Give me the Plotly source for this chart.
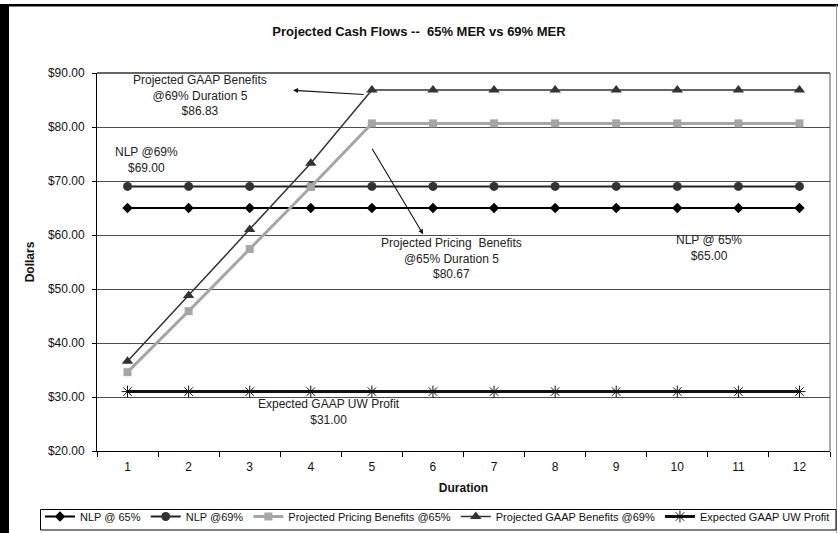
import plotly.graph_objects as go

# Projected cash flows by policy duration
durations = [1, 2, 3, 4, 5, 6, 7, 8, 9, 10, 11, 12]
nlp_65 = [65.00] * 12
nlp_69 = [69.00] * 12
pricing_benefits_65 = [34.6, 45.9, 57.4, 68.9, 80.67, 80.67, 80.67, 80.67, 80.67, 80.67, 80.67, 80.67]
gaap_benefits_69 = [36.6, 48.8, 61.0, 73.3, 86.83, 86.83, 86.83, 86.83, 86.83, 86.83, 86.83, 86.83]
uw_profit = [31.00] * 12

y_ticks = [20, 30, 40, 50, 60, 70, 80, 90]

W, H = 838, 533
ML, MR, MT, MB = 97, 8, 73, 82
PW, PH = W - ML - MR, H - MT - MB
FONT = "Liberation Sans, Arial, sans-serif"


def px_x(px):
    return (px - ML) / PW


def px_y(py):
    return 1 - (py - MT) / PH


cats = [str(d) for d in durations]

fig = go.Figure()
fig.add_trace(go.Scatter(
    x=cats, y=nlp_65, name="NLP @ 65%", mode="lines+markers",
    line=dict(color="#000000", width=2),
    marker=dict(symbol="diamond", size=8, color="#000000")))
fig.add_trace(go.Scatter(
    x=cats, y=nlp_69, name="NLP @69%", mode="lines+markers",
    line=dict(color="#222222", width=2),
    marker=dict(symbol="circle", size=9, color="#333333")))
fig.add_trace(go.Scatter(
    x=cats, y=pricing_benefits_65, name="Projected Pricing Benefits @65%", mode="lines+markers",
    line=dict(color="#a6a6a6", width=3),
    marker=dict(symbol="square", size=8, color="#a6a6a6")))
fig.add_trace(go.Scatter(
    x=cats, y=gaap_benefits_69, name="Projected GAAP Benefits @69%", mode="lines+markers",
    line=dict(color="#333333", width=1.5),
    marker=dict(symbol="triangle-up", size=10, color="#333333")))
fig.add_trace(go.Scatter(
    x=cats, y=uw_profit, name="Expected GAAP UW Profit", mode="lines+markers",
    line=dict(color="#111111", width=3),
    marker=dict(symbol="asterisk-open", size=10, color="#111111",
                line=dict(color="#111111", width=1))))

ann_font = dict(family=FONT, size=12, color="#222222")
annotations = [
    dict(x=1.19, y=85.87, text="Projected GAAP Benefits<br>@69% Duration 5<br>$86.83"),
    dict(x=5.31, y=55.69, text="Projected Pricing  Benefits<br>@65% Duration 5<br>$80.67"),
    dict(x=0.31, y=73.93, text="NLP @69%<br>$69.00"),
    dict(x=9.52, y=57.63, text="NLP @ 65%<br>$65.00"),
    dict(x=3.29, y=27.17, text="Expected GAAP UW Profit<br>$31.00"),
]
for a in annotations:
    fig.add_annotation(xref="x", yref="y", showarrow=False, font=ann_font,
                       xanchor="center", yanchor="middle", align="center", **a)

# pointer arrows from the duration-5 points to their labels
for (hx, hy, tx, ty) in [(2.71, 86.80, 3.89, 86.0), (4.84, 60.13, 3.99, 76.24)]:
    fig.add_annotation(xref="x", yref="y", x=hx, y=hy, axref="x", ayref="y", ax=tx, ay=ty,
                       text="", showarrow=True, arrowhead=2, arrowsize=0.9,
                       arrowwidth=1.1, arrowcolor="#111111", standoff=0, startstandoff=0)

# outer chart frame
fig.add_shape(type="rect", xref="paper", yref="paper", layer="above",
              x0=px_x(0), x1=px_x(9), y0=px_y(533), y1=px_y(4),
              fillcolor="#000000", line=dict(width=0))
fig.add_shape(type="rect", xref="paper", yref="paper", layer="above",
              x0=px_x(0), x1=px_x(838), y0=px_y(6.5), y1=px_y(4),
              fillcolor="#000000", line=dict(width=0))
fig.add_shape(type="line", xref="paper", yref="paper", layer="above",
              x0=px_x(836.5), x1=px_x(836.5), y0=px_y(533), y1=px_y(5),
              line=dict(color="#9a9a9a", width=1))

# legend frame
fig.add_shape(type="rect", xref="paper", yref="paper", layer="above",
              x0=px_x(40.5), x1=px_x(836), y0=px_y(530), y1=px_y(509.5),
              fillcolor="rgba(255,255,255,0)", line=dict(color="#000000", width=1))

fig.update_layout(
    width=W, height=H,
    margin=dict(l=ML, r=MR, t=MT, b=MB, pad=0, autoexpand=False),
    paper_bgcolor="#ffffff", plot_bgcolor="#ffffff",
    font=dict(family=FONT, size=12, color="#111111"),
    title=dict(text="<b>Projected Cash Flows --  65% MER vs 69% MER</b>",
               x=0.5, xanchor="center", xref="container",
               y=1 - 31 / H, yanchor="middle", yref="container",
               font=dict(family=FONT, size=13, color="#111111")),
    xaxis=dict(type="category", range=[-0.5, 11.5], tickson="boundaries",
               ticks="outside", ticklen=5, tickcolor="#000000", tickwidth=1,
               showgrid=False, showline=True, linecolor="#000000", linewidth=1,
               mirror=False, zeroline=False, ticklabelstandoff=5,
               tickfont=dict(family=FONT, size=12, color="#111111"),
               title=dict(text="<b>Duration</b>", standoff=10,
                          font=dict(family=FONT, size=12, color="#111111"))),
    yaxis=dict(range=[20, 90], tickvals=y_ticks, tickformat="$.2f",
               ticks="outside", ticklen=4, tickcolor="#000000", tickwidth=1,
               showgrid=True, gridcolor="#4d4d4d", gridwidth=1,
               showline=True, linecolor="#000000", linewidth=1, zeroline=False,
               ticklabelstandoff=5,
               tickfont=dict(family=FONT, size=12, color="#111111"),
               title=dict(text="<b>Dollars</b>", standoff=10,
                          font=dict(family=FONT, size=12, color="#111111"))),
    showlegend=True,
    legend=dict(orientation="h", xref="paper", yref="paper",
                x=px_x(40), xanchor="left", y=px_y(502), yanchor="top",
                bgcolor="rgba(255,255,255,0)", borderwidth=0,
                font=dict(family=FONT, size=11, color="#111111"),
                itemwidth=30, tracegroupgap=0),
)

# top and right edges of the plot area
fig.add_shape(type="line", xref="paper", yref="paper", x0=0, x1=1, y0=1, y1=1,
              line=dict(color="#333333", width=1.5))
fig.add_shape(type="line", xref="paper", yref="paper", x0=1, x1=1, y0=0, y1=1,
              line=dict(color="#555555", width=1))

fig.write_html("out.html")
